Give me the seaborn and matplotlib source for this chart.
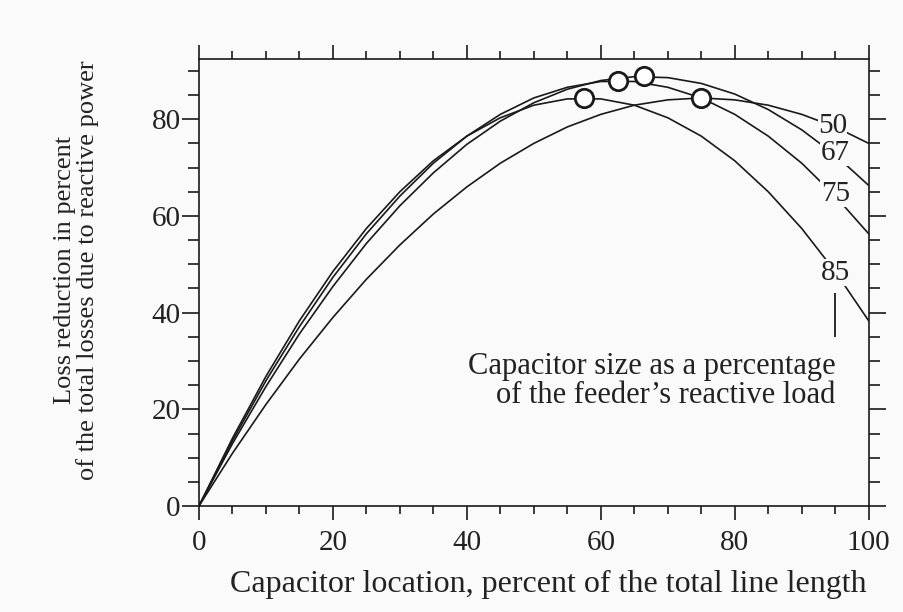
import pandas as pd
import matplotlib
matplotlib.use('Agg')
import matplotlib.pyplot as plt
from matplotlib.ticker import MultipleLocator
import seaborn as sns

# --- data ---
poloha = [0, 5, 10, 15, 20, 25, 30, 35, 40, 45, 50,
          55, 60, 65, 70, 75, 80, 85, 90, 95, 100]
krivka_50 = [0, 10.9, 21.0, 30.4, 39.0, 46.9, 54.0, 60.4, 66.0, 70.9, 75.0,
             78.4, 81.0, 82.9, 84.0, 84.4, 84.0, 82.9, 81.0, 78.4, 75.0]
krivka_67 = [0, 12.9, 24.7, 35.6, 45.4, 54.3, 62.1, 68.9, 74.8, 79.6, 83.4,
             86.2, 88.0, 88.8, 88.6, 87.4, 85.2, 82.0, 77.8, 72.6, 66.3]
krivka_75 = [0, 13.5, 25.9, 37.1, 47.3, 56.3, 64.1, 70.9, 76.5, 81.0, 84.4,
             86.6, 87.8, 87.8, 86.6, 84.4, 81.0, 76.5, 70.9, 64.1, 56.3]
krivka_85 = [0, 14.0, 26.8, 38.3, 48.5, 57.4, 65.0, 71.4, 76.5, 80.3, 82.9,
             84.2, 84.2, 82.9, 80.3, 76.5, 71.4, 65.0, 57.4, 48.5, 38.3]
velikosti = ['50', '67', '75', '85']

# optimum points (circles)
opt_x = [75.0, 66.5, 62.5, 57.5]
opt_y = [84.4, 88.9, 87.9, 84.3]

# label positions for curve labels
popisek_x = [94.6, 95.0, 95.0, 95.0]
popisek_y = [78.6, 73.0, 64.6, 48.3]

df = pd.DataFrame({
    'x': poloha * 4,
    'y': krivka_50 + krivka_67 + krivka_75 + krivka_85,
    'c': sum([[v] * len(poloha) for v in velikosti], []),
})
df_opt = pd.DataFrame({'x': opt_x, 'y': opt_y})

sns.set_style('ticks')
plt.rcParams['font.family'] = ['Liberation Serif', 'DejaVu Serif']

bg = '#fafafa'
fig = plt.figure(figsize=(9.04, 6.12), dpi=100, facecolor=bg)
ax = fig.add_axes([0.220, 0.173, 0.741, 0.731])
ax.set_facecolor(bg)

sns.lineplot(data=df, x='x', y='y', units='c', estimator=None,
             color='#1a1a1a', linewidth=1.2, ax=ax, legend=False)

# curve labels (box in background colour cuts the curve)
for lab, lx, ly in zip(velikosti, popisek_x, popisek_y):
    ax.text(lx, ly, lab, fontsize=21, ha='center', va='center', color='#222222',
            bbox=dict(facecolor=bg, edgecolor='none', pad=0.3), zorder=3)

sns.scatterplot(data=df_opt, x='x', y='y', s=175, facecolor='white',
                edgecolor='#1a1a1a', linewidth=2.0, ax=ax, zorder=4)

# leader line + note
ax.vlines(95, 35, 44, color='#1a1a1a', linewidth=1.3)
ax.text(95, 25.9, 'Capacitor size as a percentage\nof the feeder\u2019s reactive load',
        fontsize=22, ha='right', va='center', linespacing=1.0, color='#222222')

ax.set_xlim(0, 100)
ax.set_ylim(0, 92.5)
ax.xaxis.set_major_locator(MultipleLocator(20))
ax.xaxis.set_minor_locator(MultipleLocator(5))
ax.yaxis.set_major_locator(MultipleLocator(20))
ax.yaxis.set_minor_locator(MultipleLocator(5))

for s in ax.spines.values():
    s.set_visible(True)
    s.set_linewidth(1.2)
    s.set_color('#1a1a1a')

ax.tick_params(which='both', direction='out', top=True, right=True,
               color='#1a1a1a', width=1.2, labelsize=21, labelcolor='#222222')
ax.tick_params(axis='x', which='major', length=10, pad=7)
ax.tick_params(axis='x', which='minor', length=6)
ax.tick_params(axis='y', which='major', length=12, pad=1)
ax.tick_params(axis='y', which='minor', length=8)

ax.set_xlabel('Capacitor location, percent of the total line length',
              fontsize=23, labelpad=10, color='#222222')
ax.xaxis.label.set_x(0.522)
ax.set_ylabel('Loss reduction in percent\nof the total losses due to reactive power',
              fontsize=19, labelpad=38, linespacing=1.0, color='#222222')
ax.yaxis.label.set_y(0.527)

plt.savefig('out.png', dpi=100, facecolor=bg)
